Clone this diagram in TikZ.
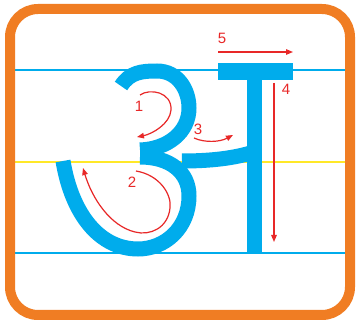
\documentclass[tikz,border=0pt]{standalone}
\usepackage{fontspec}
\setmainfont{Liberation Sans}
\usetikzlibrary{arrows.meta}
\definecolor{frameorange}{RGB}{240,125,35}
\definecolor{letterblue}{RGB}{0,172,236}
\definecolor{lineyellow}{RGB}{255,232,40}
\definecolor{arrowred}{RGB}{232,40,40}
\begin{document}
\begin{tikzpicture}[x=1pt,y=-1pt,
  guide/.style={line width=1.6pt},
  stroke/.style={draw=letterblue, line width=15pt, line cap=butt},
  redarrow/.style={draw=arrowred, line width=1.2pt, -{Triangle[length=7pt,width=5.5pt]}},
  numlabel/.style={text=arrowred, font=\fontsize{15}{15}\selectfont, inner sep=0pt}]
\useasboundingbox (0,0) rectangle (357,326);
\fill[white] (0,0) rectangle (357,326);
% guide lines
\draw[guide, letterblue] (15,70) -- (347,70);
\draw[guide, lineyellow] (15,162) -- (347,162);
\draw[guide, letterblue] (15,253) -- (347,253);
% letter
\draw[stroke] (121,86) .. controls (130,72) and (142,71) .. (157,71)
  .. controls (178,71) and (189,90) .. (189,108)
  .. controls (189,132) and (168,149) .. (140,150);
\draw[stroke] (140,157) .. controls (170,157) and (189,172) .. (189,196)
  .. controls (189,228) and (165,249) .. (138,249)
  .. controls (100,249) and (72,215) .. (63,161);
\draw[stroke] (182,161) .. controls (212,161) and (235,158) .. (254,152);
\draw[stroke] (254.5,72) -- (254.5,254);
\fill[letterblue] (218,63) rectangle (293,80);
% frame
\draw[frameorange, line width=10pt, rounded corners=28pt] (10,9) rectangle (350,315);
% arrows
\coordinate (a1s) at (140,95);
\coordinate (a1e) at (137,137);
\draw[redarrow] (a1s) .. controls (150,88) and (172,92) .. (171,110)
  .. controls (170,124) and (152,134) .. (a1e);
\node[numlabel] (n1) at (139,106) {1};
\coordinate (a2s) at (136,171);
\coordinate (a2e) at (83,168);
\draw[redarrow] (a2s) .. controls (160,175) and (172,195) .. (170,208)
  .. controls (168,228) and (150,236) .. (135,232)
  .. controls (110,226) and (92,198) .. (a2e);
\node[numlabel] (n2) at (132,182) {2};
\coordinate (a3s) at (194,138);
\coordinate (a3e) at (233,135);
\draw[redarrow] (a3s) .. controls (205,143) and (220,142) .. (a3e);
\node[numlabel] (n3) at (198,129) {3};
\coordinate (a4s) at (274,83);
\coordinate (a4e) at (274,242);
\draw[redarrow] (a4s) -- (a4e);
\node[numlabel] (n4) at (286,89) {4};
\coordinate (a5s) at (218,52);
\coordinate (a5e) at (293,52);
\draw[redarrow] (a5s) -- (a5e);
\node[numlabel] (n5) at (222,38) {5};
\end{tikzpicture}
\end{document}
